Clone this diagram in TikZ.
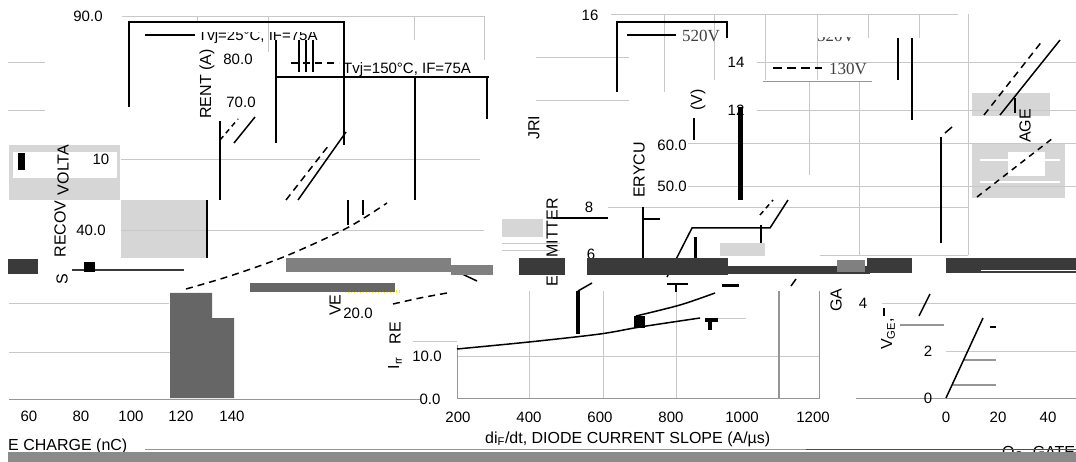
\documentclass[tikz,border=0pt]{standalone}
\usepackage{fontspec}
\setmainfont{Liberation Sans}
\newfontfamily\legendserif{Liberation Serif}
\usetikzlibrary{positioning}

\definecolor{gridgray}{RGB}{200,200,200}
\definecolor{axisgray}{RGB}{150,150,150}
\definecolor{lightpatch}{RGB}{214,214,214}
\definecolor{midpatch}{RGB}{128,128,128}
\definecolor{darkpatch}{RGB}{58,58,58}
\definecolor{blockgray}{RGB}{102,102,102}
\definecolor{bargray}{RGB}{138,138,138}

\begin{document}
\begin{tikzpicture}[
    x=1pt, y=-1pt,
    ticklabel/.style={inner sep=0pt, font=\fontsize{15}{17}\selectfont},
    axistitle/.style={inner sep=0pt, anchor=west, font=\fontsize{16}{18}\selectfont},
    sidetitle/.style={inner sep=0pt, rotate=90, font=\fontsize{16}{18}\selectfont},
    legendtext/.style={inner sep=0pt, anchor=west, font=\fontsize{15}{17}\selectfont},
    seriflegend/.style={inner sep=0pt, anchor=west, font=\legendserif\fontsize{17}{19}\selectfont},
    gridline/.style={draw=gridgray, line width=0.9pt},
    axisline/.style={draw=axisgray, line width=1pt},
    frameline/.style={draw=black, line width=1.3pt},
    solidcurve/.style={draw=black, line width=1.5pt},
    dashcurve/.style={draw=black, line width=1.5pt, dash pattern=on 7pt off 5pt},
    thickbar/.style={draw=black, line width=3.5pt}
]
\useasboundingbox (0,0) rectangle (1076,462);

% light patches
\fill[lightpatch] (9,145) rectangle (120,200);
\fill[white] (13,152) rectangle (117,178);
\fill[black] (18,153) rectangle (25,170);
\fill[lightpatch] (121,200) rectangle (207,258);
\fill[lightpatch] (502,219) rectangle (543,237);
\fill[lightpatch] (720,243) rectangle (765,256);
\fill[lightpatch] (972,93) rectangle (1050,116);
\fill[lightpatch] (972,143) rectangle (1065,198);
\fill[white] (1008,152) rectangle (1045,176);
\draw[white, line width=1.5pt] (980,160) -- (1060,160);
\draw[white, line width=1.5pt] (980,182) -- (1060,182);

% grid, left panel
\draw[gridline] (122,16) -- (484,16);
\foreach \x/\ya in {197/22, 268/52, 414/40, 484/60}
    \draw[gridline] (\x,16) -- (\x,\ya);
\draw[gridline] (8,62) -- (45,62);
\draw[gridline] (8,110) -- (45,110);
\draw[gridline] (121,159) -- (480,159);
\draw[gridline] (121,230) -- (484,230);
\draw[gridline] (9,303) -- (169,303);
\draw[gridline] (9,352) -- (234,352);
\draw[axisline] (9,399) -- (420,399);
\draw[gridline] (502,243) -- (560,243);
\draw[gridline] (502,250) -- (560,250);

% grid, middle panel
\foreach \x in {529,603,676}
    \draw[gridline] (\x,291) -- (\x,398);
\draw[gridline] (457,356) -- (819,356);
\draw[gridline] (413,341) -- (457,341);
\draw[gridline] (712,318) -- (746,318);
\draw[axisline] (457,345) -- (457,398) -- (819,398) -- (819,291);
\draw[draw=axisgray, line width=1.5pt] (779,291) -- (779,398);

% grid, right panel
\draw[gridline] (611,14) -- (958,14);
\foreach \x/\ya in {664/92, 714/80, 765/80, 817/80, 868/38, 919/38, 968/255}
    \draw[gridline] (\x,14) -- (\x,\ya);
\foreach \y/\xa/\xb in {57/536/629, 100/536/629, 62/757/1076, 110/757/1076, 143/688/1076, 186/688/1076, 207/608/968, 255/820/968}
    \draw[gridline] (\xa,\y) -- (\xb,\y);
\draw[gridline] (809,82) -- (809,175);
\draw[gridline] (859,82) -- (859,255);
\draw[gridline] (882,303) -- (1076,303);
\draw[gridline] (946,351) -- (1076,351);
\draw[axisline] (856,398) -- (1076,398);
\draw[draw=axisgray, line width=1.2pt] (900,325) -- (944,325);
\draw[draw=axisgray, line width=1.2pt] (963,360) -- (996,360);
\draw[draw=axisgray, line width=1.2pt] (953,385) -- (996,385);

% tick labels
\node[ticklabel] (y90) at (88,16) {90.0};
\node[ticklabel] (y80) at (238,59) {80.0};
\node[ticklabel] (y70) at (241,102) {70.0};
\node[ticklabel, fill=white] (y10) at (101,159) {10};
\node[ticklabel] (y40) at (91,230) {40.0};
\foreach \x/\t in {29/60, 81/80, 131/100, 181/120, 232/140}
    \node[ticklabel] (qx\t) at (\x,416) {\t};
\node[ticklabel] (irr0) at (430,399) {0.0};
\node[ticklabel] (irr10) at (427,356) {10.0};
\node[ticklabel] (irr20) at (358,313) {20.0};
\foreach \x/\t in {458/200, 529/400, 600/600, 671/800, 742/1000, 813/1200}
    \node[ticklabel] (dx\t) at (\x,417) {\t};
\node[ticklabel] (v16) at (590,15) {16};
\node[ticklabel] (v14) at (736,62) {14};
\node[ticklabel] (v12) at (736,110) {12};
\node[ticklabel] (t60) at (672,145) {60.0};
\node[ticklabel] (t50) at (672,186) {50.0};
\node[ticklabel] (v8) at (589,207) {8};
\node[ticklabel] (v6) at (591,254) {6};
\node[ticklabel] (v4) at (863,303) {4};
\node[ticklabel] (v2) at (928,351) {2};
\node[ticklabel] (v0) at (928,398) {0};
\foreach \x/\t in {946/0, 998/20, 1048/40}
    \node[ticklabel] (gx\t) at (\x,417) {\t};

% axis titles
\node[sidetitle] (rent) at (207,84) {RENT (A)};
\node[sidetitle] (volta) at (63,170) {VOLTA};
\node[sidetitle] (recov) at (60,229) {RECOV};
\node[sidetitle] (srec) at (62,279) {S};
\node[sidetitle] (jri) at (534,128) {JRI};
\node[sidetitle] (erycu) at (639,170) {ERYCU};
\node[sidetitle] (volt) at (698,100) {(V)};
\node[sidetitle] (mitter) at (552,228) {MITTER};
\node[sidetitle] (emit) at (552,281) {E};
\node[sidetitle] (ve) at (335,305) {VE};
\node[sidetitle] (re) at (395,333) {RE};
\node[sidetitle] (irr) at (395,363) {I\textsubscript{rr}};
\node[sidetitle] (ga) at (836,300) {GA};
\node[sidetitle] (vge) at (888,334) {V\textsubscript{GE},};
\node[sidetitle] (age) at (1025,126) {AGE};
\node[axistitle] (slope) at (485,439) {di\textsubscript{F}/dt, DIODE CURRENT SLOPE (A/µs)};
\node[axistitle] (charge) at (8,446) {E CHARGE (nC)};
\node[axistitle] (gate) at (1002,453) {Q\textsubscript{G}, GATE};

% legends
\draw[frameline] (129,107) -- (129,22) -- (344,22) -- (344,145);
\draw[solidcurve] (145,35) -- (195,35);
\begin{scope}
    \clip (190,33) rectangle (340,50);
    \node[legendtext] (tvj25) at (198,37) {Tvj=25°C, IF=75A};
\end{scope}
\draw[dashcurve] (291,63) -- (339,63);
\node[legendtext] (tvj150) at (343,70) {Tvj=150°C, IF=75A};
\draw[frameline] (617,92) -- (617,22) -- (727,22) -- (727,38);
\draw[solidcurve] (627,35) -- (676,35);
\begin{scope}
    \clip (600,30) rectangle (726,50);
    \node[seriflegend, text=black!75] (v520) at (682,36) {520V};
\end{scope}
\begin{scope}
    \clip (800,38) rectangle (880,50);
    \node[seriflegend, text=black!75] (v520b) at (817,36) {520V};
\end{scope}
\draw[dashcurve, dash pattern=on 9pt off 5pt] (773,68) -- (822,68);
\node[seriflegend, text=black!75] (v130) at (829,69) {130V};
\draw[draw=axisgray, line width=1pt] (763,82) -- (872,82);

% black strokes, left panel
\foreach \x in {299,306,313}
    \draw[frameline] (\x,40) -- (\x,72);
\draw[frameline] (276,40) -- (276,143);
\draw[frameline] (276,77) -- (489,77);
\draw[frameline] (415,77) -- (415,200);
\draw[frameline] (487,77) -- (487,119);
\draw[frameline] (220,121) -- (220,200);
\draw[frameline] (207,200) -- (207,258);
\draw[dashcurve, dash pattern=on 5pt off 4pt] (220,140) -- (238,119);
\draw[solidcurve] (234,143) -- (255,117);
\draw[dashcurve] (286,200) -- (329,145);
\draw[solidcurve] (298,200) -- (346,132);
\draw[thickbar, line width=2.5pt] (348,200) -- (348,225);
\draw[thickbar, line width=2.5pt] (363,200) -- (363,215);
\draw[dashcurve] plot[smooth] coordinates {(186,289) (230,276) (286,256) (347,228) (387,203)};
\draw[dashcurve] plot[smooth] coordinates {(393,304) (420,298) (447,293)};
\draw[solidcurve] (460,273) -- (477,281);
\draw[yellow, line width=3pt, dash pattern=on 1pt off 2pt] (345,292) -- (400,292);

% black strokes, middle panel
\draw[solidcurve] plot[smooth] coordinates {(457,349) (529,342) (600,334) (640,327) (700,318)};
\draw[solidcurve] plot[smooth] coordinates {(636,316) (680,305) (715,293)};
\draw[thickbar] (578,291) -- (578,334);
\draw[solidcurve] (578,291) -- (592,283);
\fill[black] (634,316) rectangle (645,328);
\fill[black] (705,318) rectangle (718,322);
\fill[black] (708,318) rectangle (712,330);

% black strokes, right panel
\draw[frameline] (898,38) -- (898,80);
\draw[frameline] (912,38) -- (912,120);
\draw[thickbar, line width=5pt] (740,107) -- (740,200);
\draw[frameline] (694,118) -- (694,140);
\draw[dashcurve] (984,115) -- (1043,40);
\draw[solidcurve] (1000,115) -- (1060,40);
\draw[frameline] (1015,98) -- (1015,113);
\draw[dashcurve, dash pattern=on 6pt off 5pt] (977,197) -- (1053,138);
\draw[frameline, line width=1.8pt] (941,137) -- (941,243);
\draw[solidcurve] (945,133) -- (952,127);
\draw[thickbar, line width=2.5pt] (643,207) -- (643,258);
\draw[frameline] (643,219) -- (660,219);
\draw[solidcurve] (553,218) -- (608,218);
\draw[solidcurve] (667,277) -- (692,228) -- (770,228) -- (788,200);
\draw[dashcurve, dash pattern=on 5pt off 4pt] (760,215) -- (773,200);
\draw[thickbar, line width=3pt] (695,237) -- (695,258);
\draw[thickbar, line width=2pt] (761,225) -- (761,243);
\draw[frameline] (667,284) -- (688,284);
\draw[frameline] (676,284) -- (676,292);
\fill[black] (722,284) rectangle (739,287);
\draw[solidcurve] (791,286) -- (796,279);
\draw[solidcurve] (946,398) -- (983,318);
\draw[solidcurve] (919,316) -- (930,294);
\draw[frameline] (990,327) -- (996,327);
\draw[frameline] (884,308) -- (884,316);

% dark bands across the middle
\foreach \xa/\xb/\ya/\yb in {8/38/259/274, 519/565/258/275, 587/728/258/275, 728/870/266/274, 867/912/258/273, 946/1076/258/273}
    \fill[darkpatch] (\xa,\ya) rectangle (\xb,\yb);
\foreach \xa/\xb/\ya/\yb in {286/451/258/272, 451/493/265/275, 837/865/260/272}
    \fill[midpatch] (\xa,\ya) rectangle (\xb,\yb);
\fill[blockgray] (250,283) rectangle (395,292);
\draw[darkpatch, line width=2pt] (72,270) -- (184,270);
\fill[black] (84,262) rectangle (95,272);
\draw[white, line width=1pt] (981,271) -- (1076,271);

% grey block, lower left
\fill[blockgray] (170,293) -- (212,293) -- (212,318) -- (234,318) -- (234,398) -- (170,398) -- cycle;

% bottom bar
\draw[draw=axisgray, line width=1pt] (145,449) -- (806,449);
\draw[draw=black!70, line width=1pt] (806,449) -- (1076,449);
\fill[bargray] (8,452) rectangle (1076,462);

\end{tikzpicture}
\end{document}
